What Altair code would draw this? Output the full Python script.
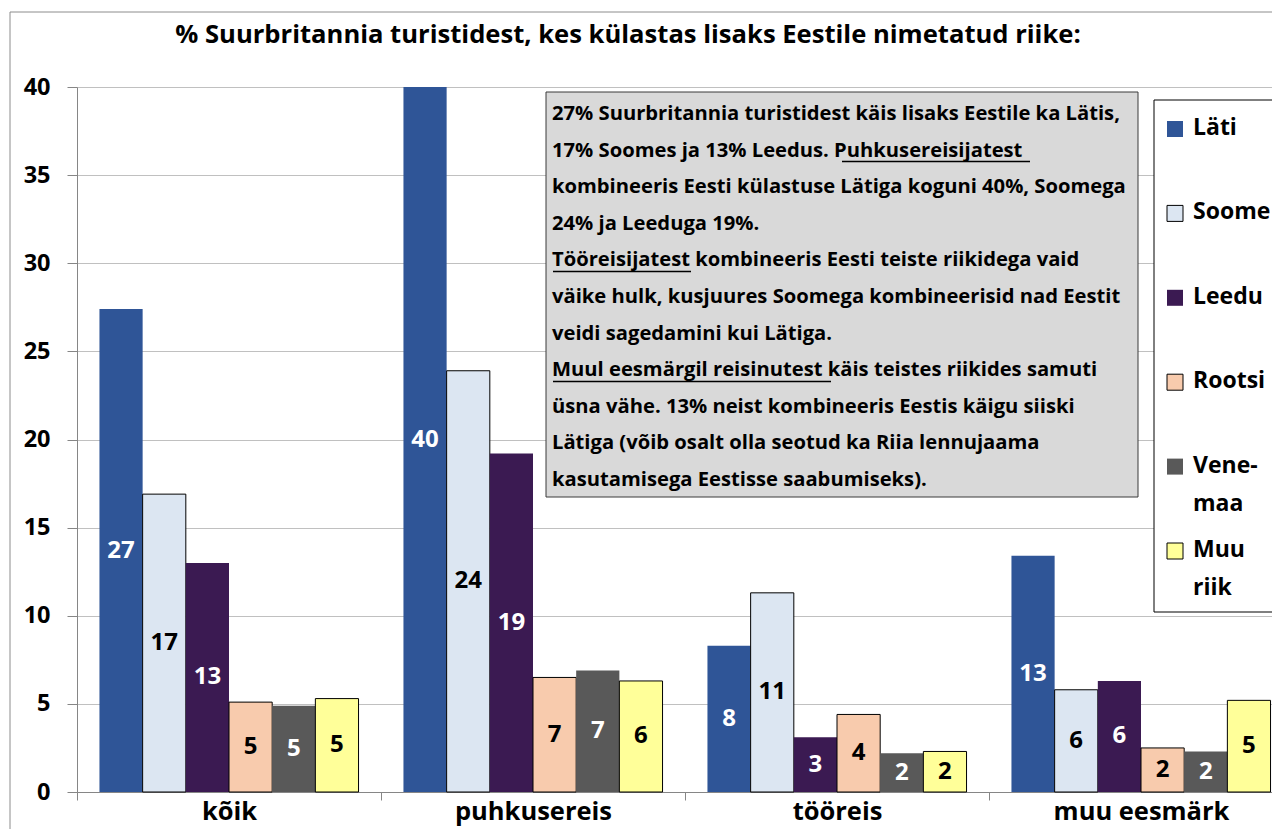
import altair as alt
import pandas as pd

# ---------------- data ----------------
categories = ["kõik", "puhkusereis", "tööreis", "muu eesmärk"]
countries = ["Läti", "Soome", "Leedu", "Rootsi", "Venemaa", "Muu riik"]
colors = ["#2f5597", "#dce6f2", "#3b1a52", "#f8cbad", "#595959", "#ffff99"]

lati_values = [27.4, 40.0, 8.3, 13.4]
soome_values = [16.9, 23.9, 11.3, 5.8]
leedu_values = [13.0, 19.2, 3.1, 6.3]
rootsi_values = [5.1, 6.5, 4.4, 2.5]
venemaa_values = [4.9, 6.9, 2.2, 2.3]
muu_values = [5.3, 6.3, 2.3, 5.2]

lati_labels = [27, 40, 8, 13]
soome_labels = [17, 24, 11, 6]
leedu_labels = [13, 19, 3, 6]
rootsi_labels = [5, 7, 4, 2]
venemaa_labels = [5, 7, 2, 2]
muu_labels = [5, 6, 2, 5]

y_ticks = [0, 5, 10, 15, 20, 25, 30, 35, 40]

legend_labels = ["Läti", "Soome", "Leedu", "Rootsi", "Vene-\nmaa", "Muu\nriik"]

title_text = "% Suurbritannia turistidest, kes külastas lisaks Eestile nimetatud riike:"

info_lines = [
    "27% Suurbritannia turistidest käis lisaks Eestile ka Lätis,",
    "17% Soomes ja 13% Leedus. Puhkusereisijatest",
    "kombineeris Eesti külastuse Lätiga koguni 40%, Soomega",
    "24% ja Leeduga 19%.",
    "Tööreisijatest kombineeris Eesti teiste riikidega vaid",
    "väike hulk, kusjuures Soomega kombineerisid nad Eestit",
    "veidi sagedamini kui Lätiga.",
    "Muul eesmärgil reisinutest käis teistes riikides samuti",
    "üsna vähe. 13% neist kombineeris Eestis käigu siiski",
    "Lätiga (võib osalt olla seotud ka Riia lennujaama",
    "kasutamisega Eestisse saabumiseks).",
]

value_lists = [lati_values, soome_values, leedu_values, rootsi_values, venemaa_values, muu_values]
label_lists = [lati_labels, soome_labels, leedu_labels, rootsi_labels, venemaa_labels, muu_labels]

rows = []
for c, vals, labs in zip(countries, value_lists, label_lists):
    for cat, v, l in zip(categories, vals, labs):
        rows.append({"kategooria": cat, "riik": c, "protsent": v, "silt": str(l)})
df = pd.DataFrame(rows)

legend_df = pd.DataFrame({"riik": countries, "nimi": legend_labels, "nr": list(range(len(countries)))})
one = pd.DataFrame({"a": [0]})

FONT = "Open Sans"
dark_test = "indexof(['Läti','Leedu','Venemaa'], datum.riik) >= 0"

x_axis = alt.Axis(title=None, labelAngle=0, tickBand="extent", tickSize=8, tickColor="#868686",
                  domainColor="#868686", labelFont=FONT, labelFontSize=25.5, labelFontWeight="bold",
                  labelColor="black", labelBaseline="alphabetic", labelPadding=19, grid=False)
y_axis = alt.Axis(title=None, values=y_ticks, grid=True, gridColor="#c0c0c0", domainColor="#868686",
                  tickColor="#868686", tickSize=10, labelFont=FONT, labelFontSize=23.5,
                  labelFontWeight="bold", labelColor="black", labelPadding=17, labelFlush=False)

x_enc = alt.X("kategooria:N", sort=categories,
              scale=alt.Scale(range=[0, 1216], paddingInner=0, paddingOuter=0), axis=x_axis)
xoff_enc = alt.XOffset("riik:N", sort=countries, scale=alt.Scale(paddingInner=0, paddingOuter=0.52))
color_enc = alt.Color("riik:N", sort=countries, scale=alt.Scale(domain=countries, range=colors), legend=None)
y_scale = alt.Scale(domain=[0, 40], nice=False, clamp=True)

frame = alt.Chart(one).mark_rect(fillOpacity=0, stroke="#8c8c8c", strokeWidth=1).encode(
    x=alt.value(-67), x2=alt.value(1400), y=alt.value(-75), y2=alt.value(900))

title = alt.Chart(one).mark_text(font=FONT, fontSize=25.6, fontWeight="bold", align="center",
                                 baseline="alphabetic", color="black").encode(
    x=alt.value(551), y=alt.value(-44), text=alt.value(title_text))

bars = alt.Chart(df).mark_bar(stroke="black", strokeWidth=1).encode(
    x=x_enc, xOffset=xoff_enc,
    y=alt.Y("protsent:Q", scale=y_scale, axis=y_axis),
    color=color_enc,
    strokeOpacity=alt.condition(dark_test, alt.value(0), alt.value(1)),
)

bar_text = alt.Chart(df).transform_calculate(mid="datum.protsent / 2").mark_text(
    font=FONT, fontSize=24, fontWeight="bold", baseline="middle", align="center").encode(
    x=x_enc, xOffset=xoff_enc,
    y=alt.Y("mid:Q", scale=y_scale, axis=y_axis),
    text="silt:N",
    color=alt.condition(dark_test, alt.value("white"), alt.value("black")),
)

box = alt.Chart(one).mark_rect(fill="#d9d9d9", stroke="#3a3a3a", strokeWidth=1).encode(
    x=alt.value(469), x2=alt.value(1061), y=alt.value(5), y2=alt.value(410))

info = alt.Chart(one).mark_text(font=FONT, fontSize=20.2, fontWeight="bold", align="left",
                                baseline="top", lineBreak="\n", lineHeight=36.6, color="black").encode(
    x=alt.value(475), y=alt.value(17), text=alt.value("\n".join(info_lines)))


def underline(x1, x2, y):
    return alt.Chart(one).mark_rule(color="black", strokeWidth=1.5).encode(
        x=alt.value(x1), x2=alt.value(x2), y=alt.value(y))


ul1 = underline(765, 953, 74.5)
ul2 = underline(476, 614, 184.5)
ul3 = underline(476, 754, 294.5)

leg_box = alt.Chart(one).mark_rect(fill="white", stroke="black", strokeWidth=1).encode(
    x=alt.value(1077), x2=alt.value(1300), y=alt.value(13), y2=alt.value(525))

leg_sym = alt.Chart(legend_df).transform_calculate(ly="42 + datum.nr * 84.4").mark_square(
    size=256, stroke="black", strokeWidth=1, opacity=1).encode(
    x=alt.value(1098),
    y=alt.Y("ly:Q", scale=None, axis=None),
    color=color_enc,
    strokeOpacity=alt.condition(dark_test, alt.value(0), alt.value(1)),
)

leg_txt = alt.Chart(legend_df).transform_calculate(ly="42 + datum.nr * 84.4 - 12").mark_text(
    font=FONT, fontSize=23, fontWeight="bold", align="left", baseline="top", lineBreak="\n",
    lineHeight=38, color="black").encode(
    x=alt.value(1116),
    y=alt.Y("ly:Q", scale=None, axis=None),
    text="nimi:N",
)

chart = alt.layer(frame, title, bars, bar_text, box, info, ul1, ul2, ul3, leg_box, leg_sym, leg_txt).properties(
    width=1195, height=705,
    autosize=alt.AutoSizeParams(type="none"),
    padding={"left": 69, "top": 79, "right": 0, "bottom": 37},
).configure_view(stroke=None).configure(background="white")

chart.save("out.html", embed_options={"renderer": "svg", "actions": False})
